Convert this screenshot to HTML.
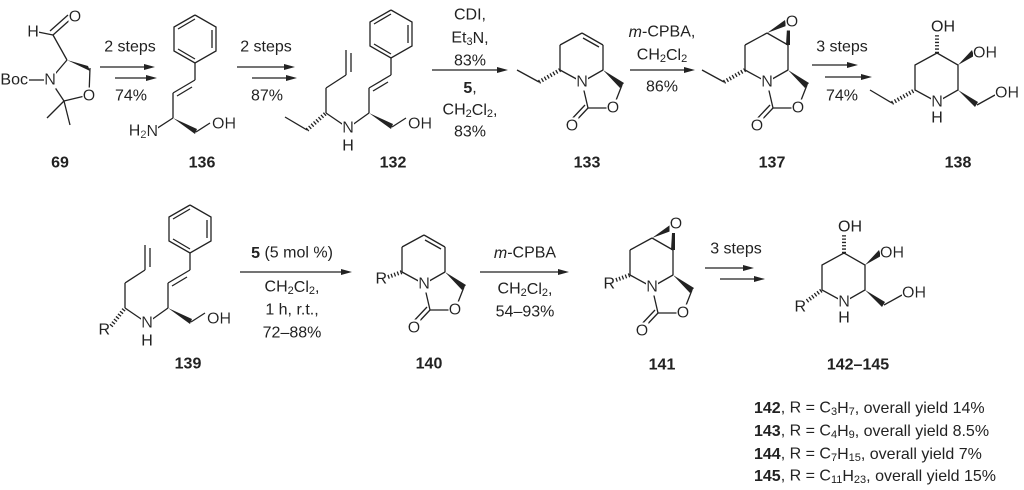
<!DOCTYPE html>
<html><head><meta charset="utf-8"><style>
html,body{margin:0;padding:0;background:#fff;}
svg{display:block;}
text{font-family:"Liberation Sans",Arial,sans-serif;font-size:16px;fill:#222;dominant-baseline:central;}
.a{filter:url(#bg);}
.b{font-weight:bold;}
line,polyline{stroke:#222;stroke-width:1.3;fill:none;}
.h{stroke-width:4;stroke-dasharray:1.3 2;}
polygon{fill:#222;stroke:none;}
.s{font-size:11px;}
</style></head><body>
<svg width="1024" height="490" viewBox="0 0 1024 490" xmlns="http://www.w3.org/2000/svg">
<defs><filter id="bg" x="0" y="0" width="1" height="1"><feFlood flood-color="#ffffff"/><feComposite in="SourceGraphic" operator="over"/></filter></defs>

<!-- 69 -->
<g>
<line x1="38" y1="32" x2="53" y2="35"/>
<line x1="53" y1="35" x2="72" y2="18"/><line x1="50" y1="31" x2="68" y2="15"/>
<line x1="53" y1="35" x2="67" y2="60"/>
<polygon points="67,60 88,66 90,71"/>
<line x1="90" y1="68" x2="89" y2="95"/>
<line x1="89" y1="95" x2="64" y2="101"/>
<line x1="64" y1="101" x2="50" y2="80"/>
<line x1="50" y1="80" x2="67" y2="60"/>
<line x1="64" y1="101" x2="47" y2="118"/><line x1="64" y1="101" x2="70" y2="125"/>
<line x1="29" y1="80" x2="45" y2="80"/>
<text class="a" x="33" y="32" text-anchor="middle">H</text>
<text class="a" x="75" y="17" text-anchor="middle">O</text>
<text class="a" x="50" y="80" text-anchor="middle">N</text>
<text x="28" y="80" text-anchor="end">Boc</text>
<text class="a" x="89" y="96" text-anchor="middle">O</text>
<text class="b" x="60" y="163" text-anchor="middle">69</text>
</g>

<!-- arrow 1 -->
<line x1="100" y1="67" x2="145" y2="67"/><polygon points="155,67 144,64 144,70"/>
<line x1="115" y1="78" x2="147" y2="78"/><polygon points="157,78 146,75 146,81"/>
<text x="130" y="47" text-anchor="middle">2 steps</text>
<text x="131" y="96" text-anchor="middle">74%</text>

<!-- 136 -->
<g transform="translate(152,133)">
<polyline points="43,-118 64,-106 64,-82 43,-70 22,-82 22,-106 43,-118"/>
<line x1="26" y1="-104" x2="43" y2="-114"/><line x1="60" y1="-103" x2="60" y2="-85"/><line x1="43" y1="-74" x2="26" y2="-84"/>
<line x1="43" y1="-70" x2="43" y2="-53"/>
<line x1="43" y1="-53" x2="21" y2="-40"/><line x1="40" y1="-46" x2="25" y2="-37"/>
<line x1="21" y1="-40" x2="21" y2="-15"/>
<polygon points="21,-15 43,1 45,-4"/>
<line x1="44" y1="-1" x2="58" y2="-10"/>
<line x1="21" y1="-15" x2="4" y2="-4"/>
<text class="a" x="60" y="-9">OH</text>
<text class="a" x="6" y="-2" text-anchor="end">H<tspan class="s" dy="4">2</tspan><tspan dy="-4">N</tspan></text>
</g>
<text class="b" x="202" y="163" text-anchor="middle">136</text>

<!-- arrow 2 -->
<line x1="237" y1="67" x2="285" y2="67"/><polygon points="295,67 284,64 284,70"/>
<line x1="252" y1="78" x2="287" y2="78"/><polygon points="297,78 286,75 286,81"/>
<text x="266" y="47" text-anchor="middle">2 steps</text>
<text x="267" y="96" text-anchor="middle">87%</text>

<!-- 132 -->
<g transform="translate(348,128)">
<polyline points="43,-118 64,-106 64,-82 43,-70 22,-82 22,-106 43,-118"/>
<line x1="26" y1="-104" x2="43" y2="-114"/><line x1="60" y1="-103" x2="60" y2="-85"/><line x1="43" y1="-74" x2="26" y2="-84"/>
<line x1="43" y1="-70" x2="43" y2="-53"/>
<line x1="43" y1="-53" x2="21" y2="-40"/><line x1="40" y1="-46" x2="25" y2="-37"/>
<line x1="21" y1="-40" x2="21" y2="-15"/>
<polygon points="21,-15 43,1 45,-4"/>
<line x1="44" y1="-1" x2="58" y2="-10"/>
<line x1="21" y1="-15" x2="0" y2="0"/>
<line x1="-22" y1="-15" x2="0" y2="0"/>
<line x1="-22" y1="-15" x2="-22" y2="-40"/>
<line x1="-22" y1="-40" x2="-2" y2="-53"/>
<line x1="-2" y1="-53" x2="-2" y2="-78"/><line x1="3" y1="-56" x2="3" y2="-75"/>
<line class="h" x1="-41" y1="2" x2="-22" y2="-15"/>
<line x1="-63" y1="-11" x2="-41" y2="2"/>
<text class="a" x="60" y="-4">OH</text>
<text class="a" x="0" y="0" text-anchor="middle">N</text>
<text x="0" y="18" text-anchor="middle">H</text>
</g>
<text class="b" x="393" y="163" text-anchor="middle">132</text>

<!-- arrow 3 -->
<line x1="432" y1="70" x2="498" y2="70"/><polygon points="508,70 497,67 497,73"/>
<text x="470" y="15" text-anchor="middle">CDI,</text>
<text x="470" y="38" text-anchor="middle">Et<tspan class="s" dy="4">3</tspan><tspan dy="-4">N,</tspan></text>
<text x="470" y="61" text-anchor="middle">83%</text>
<text x="470" y="88" text-anchor="middle"><tspan class="b">5</tspan>,</text>
<text x="470" y="110" text-anchor="middle">CH<tspan class="s" dy="4">2</tspan><tspan dy="-4">Cl</tspan><tspan class="s" dy="4">2</tspan><tspan dy="-4">,</tspan></text>
<text x="470" y="132" text-anchor="middle">83%</text>

<!-- 133 -->
<g transform="translate(560,70)">
<line x1="0" y1="0" x2="0" y2="-25"/><line x1="0" y1="-25" x2="22" y2="-37"/>
<line x1="22" y1="-37" x2="43" y2="-25"/><line x1="23" y1="-32" x2="39" y2="-23"/>
<line x1="43" y1="-25" x2="43" y2="0"/><line x1="43" y1="0" x2="22" y2="12"/>
<line x1="22" y1="12" x2="0" y2="0"/><line x1="22" y1="12" x2="28" y2="38"/>
<line x1="28" y1="38" x2="53" y2="38"/><line x1="53" y1="38" x2="62" y2="15"/>
<polygon points="43,0 60,18 64,13"/>
<line x1="28" y1="38" x2="12" y2="55"/><line x1="25" y1="35" x2="9" y2="52"/>
<line class="h" x1="-21" y1="12" x2="0" y2="0"/>
<line x1="-43" y1="0" x2="-21" y2="12"/>
<text class="a" x="22" y="12" text-anchor="middle">N</text>
<text class="a" x="53" y="38" text-anchor="middle">O</text>
<text class="a" x="12" y="56" text-anchor="middle">O</text>
</g>
<text class="b" x="587" y="163" text-anchor="middle">133</text>

<!-- arrow 4 -->
<line x1="630" y1="70" x2="685" y2="70"/><polygon points="695,70 684,67 684,73"/>
<text x="662" y="32" text-anchor="middle"><tspan font-style="italic">m</tspan>-CPBA,</text>
<text x="662" y="55" text-anchor="middle">CH<tspan class="s" dy="4">2</tspan><tspan dy="-4">Cl</tspan><tspan class="s" dy="4">2</tspan></text>
<text x="662" y="87" text-anchor="middle">86%</text>

<!-- 137 -->
<g transform="translate(745,70)">
<line x1="0" y1="0" x2="0" y2="-25"/><line x1="0" y1="-25" x2="22" y2="-37"/>
<line x1="22" y1="-37" x2="43" y2="-25"/>
<line x1="43" y1="-25" x2="43" y2="0"/><line x1="43" y1="0" x2="22" y2="12"/>
<line x1="22" y1="12" x2="0" y2="0"/><line x1="22" y1="12" x2="28" y2="38"/>
<line x1="28" y1="38" x2="53" y2="38"/><line x1="53" y1="38" x2="62" y2="15"/>
<polygon points="43,0 60,18 64,13"/>
<polygon points="22,-37 40,-50 41,-44"/>
<polygon points="41,-25 45,-25 45,-42 42,-42"/>
<line x1="28" y1="38" x2="12" y2="55"/><line x1="25" y1="35" x2="9" y2="52"/>
<line class="h" x1="-21" y1="12" x2="0" y2="0"/>
<line x1="-43" y1="0" x2="-21" y2="12"/>
<text class="a" x="47" y="-48" text-anchor="middle">O</text>
<text class="a" x="22" y="12" text-anchor="middle">N</text>
<text class="a" x="53" y="38" text-anchor="middle">O</text>
<text class="a" x="12" y="56" text-anchor="middle">O</text>
</g>
<text class="b" x="772" y="163" text-anchor="middle">137</text>

<!-- arrow 5 -->
<line x1="812" y1="65" x2="848" y2="65"/><polygon points="858,65 847,62 847,68"/>
<line x1="825" y1="77" x2="862" y2="77"/><polygon points="872,77 861,74 861,80"/>
<text x="842" y="47" text-anchor="middle">3 steps</text>
<text x="842" y="96" text-anchor="middle">74%</text>

<!-- 138 -->
<g transform="translate(937,53)">
<polyline points="0,0 21,12 21,37 0,49 -22,37 -22,12 0,0"/>
<line class="h" x1="0" y1="0" x2="0" y2="-19"/>
<polygon points="21,12 35,-3 37,3"/>
<polygon points="21,37 38,54 41,49"/>
<line x1="40" y1="52" x2="58" y2="42"/>
<line class="h" x1="-45" y1="50" x2="-22" y2="37"/>
<line x1="-67" y1="37" x2="-45" y2="50"/>
<text x="-6" y="-26">OH</text>
<text class="a" x="36" y="0">OH</text>
<text class="a" x="58" y="40">OH</text>
<text class="a" x="0" y="49" text-anchor="middle">N</text>
<text x="0" y="65" text-anchor="middle">H</text>
</g>
<text class="b" x="958" y="163" text-anchor="middle">138</text>

<!-- 139 -->
<g transform="translate(147,323)">
<polyline points="43,-118 64,-106 64,-82 43,-70 22,-82 22,-106 43,-118"/>
<line x1="26" y1="-104" x2="43" y2="-114"/><line x1="60" y1="-103" x2="60" y2="-85"/><line x1="43" y1="-74" x2="26" y2="-84"/>
<line x1="43" y1="-70" x2="43" y2="-53"/>
<line x1="43" y1="-53" x2="21" y2="-40"/><line x1="40" y1="-46" x2="25" y2="-37"/>
<line x1="21" y1="-40" x2="21" y2="-15"/>
<polygon points="21,-15 43,1 45,-4"/>
<line x1="44" y1="-1" x2="58" y2="-10"/>
<line x1="21" y1="-15" x2="0" y2="0"/>
<line x1="-22" y1="-15" x2="0" y2="0"/>
<line x1="-22" y1="-15" x2="-22" y2="-40"/>
<line x1="-22" y1="-40" x2="-2" y2="-53"/>
<line x1="-2" y1="-53" x2="-2" y2="-78"/><line x1="3" y1="-56" x2="3" y2="-75"/>
<line class="h" x1="-36" y1="3" x2="-22" y2="-15"/>
<text class="a" x="60" y="-4">OH</text>
<text class="a" x="0" y="0" text-anchor="middle">N</text>
<text x="0" y="18" text-anchor="middle">H</text>
<text x="-37" y="7" text-anchor="end">R</text>
</g>
<text class="b" x="188" y="364" text-anchor="middle">139</text>

<!-- arrow 6 -->
<line x1="240" y1="272" x2="342" y2="272"/><polygon points="352,272 341,269 341,275"/>
<text x="292" y="253" text-anchor="middle"><tspan class="b">5</tspan> (5 mol %)</text>
<text x="292" y="287" text-anchor="middle">CH<tspan class="s" dy="4">2</tspan><tspan dy="-4">Cl</tspan><tspan class="s" dy="4">2</tspan><tspan dy="-4">,</tspan></text>
<text x="292" y="310" text-anchor="middle">1 h, r.t.,</text>
<text x="292" y="333" text-anchor="middle">72–88%</text>

<!-- 140 -->
<g transform="translate(402,272)">
<line x1="0" y1="0" x2="0" y2="-25"/><line x1="0" y1="-25" x2="22" y2="-37"/>
<line x1="22" y1="-37" x2="43" y2="-25"/><line x1="23" y1="-32" x2="39" y2="-23"/>
<line x1="43" y1="-25" x2="43" y2="0"/><line x1="43" y1="0" x2="22" y2="12"/>
<line x1="22" y1="12" x2="0" y2="0"/><line x1="22" y1="12" x2="28" y2="38"/>
<line x1="28" y1="38" x2="53" y2="38"/><line x1="53" y1="38" x2="62" y2="15"/>
<polygon points="43,0 60,18 64,13"/>
<line x1="28" y1="38" x2="12" y2="55"/><line x1="25" y1="35" x2="9" y2="52"/>
<line class="h" x1="-14" y1="5" x2="0" y2="0"/>
<text x="-15" y="7" text-anchor="end">R</text>
<text class="a" x="22" y="12" text-anchor="middle">N</text>
<text class="a" x="53" y="38" text-anchor="middle">O</text>
<text class="a" x="12" y="56" text-anchor="middle">O</text>
</g>
<text class="b" x="429" y="364" text-anchor="middle">140</text>

<!-- arrow 7 -->
<line x1="480" y1="272" x2="559" y2="272"/><polygon points="569,272 558,269 558,275"/>
<text x="525" y="253" text-anchor="middle"><tspan font-style="italic">m</tspan>-CPBA</text>
<text x="525" y="289" text-anchor="middle">CH<tspan class="s" dy="4">2</tspan><tspan dy="-4">Cl</tspan><tspan class="s" dy="4">2</tspan><tspan dy="-4">,</tspan></text>
<text x="525" y="312" text-anchor="middle">54–93%</text>

<!-- 141 -->
<g transform="translate(630,275)">
<line x1="0" y1="0" x2="0" y2="-25"/><line x1="0" y1="-25" x2="22" y2="-37"/>
<line x1="22" y1="-37" x2="43" y2="-25"/>
<line x1="43" y1="-25" x2="43" y2="0"/><line x1="43" y1="0" x2="22" y2="12"/>
<line x1="22" y1="12" x2="0" y2="0"/><line x1="22" y1="12" x2="28" y2="38"/>
<line x1="28" y1="38" x2="53" y2="38"/><line x1="53" y1="38" x2="62" y2="15"/>
<polygon points="43,0 60,18 64,13"/>
<polygon points="22,-37 40,-50 41,-44"/>
<polygon points="41,-25 45,-25 45,-42 42,-42"/>
<line x1="28" y1="38" x2="12" y2="55"/><line x1="25" y1="35" x2="9" y2="52"/>
<line class="h" x1="-14" y1="5" x2="0" y2="0"/>
<text x="-15" y="9" text-anchor="end">R</text>
<text class="a" x="46" y="-51" text-anchor="middle">O</text>
<text class="a" x="22" y="12" text-anchor="middle">N</text>
<text class="a" x="53" y="38" text-anchor="middle">O</text>
<text class="a" x="12" y="56" text-anchor="middle">O</text>
</g>
<text class="b" x="662" y="365" text-anchor="middle">141</text>

<!-- arrow 8 -->
<line x1="705" y1="268" x2="744" y2="268"/><polygon points="754,268 743,265 743,271"/>
<line x1="720" y1="279" x2="755" y2="279"/><polygon points="765,279 754,276 754,282"/>
<text x="736" y="249" text-anchor="middle">3 steps</text>

<!-- 142-145 -->
<g transform="translate(844,253)">
<polyline points="0,0 21,12 21,37 0,49 -22,37 -22,12 0,0"/>
<line class="h" x1="0" y1="0" x2="0" y2="-19"/>
<polygon points="21,12 35,-3 37,3"/>
<polygon points="21,37 38,54 41,49"/>
<line x1="40" y1="52" x2="58" y2="42"/>
<line class="h" x1="-37" y1="48" x2="-22" y2="37"/>
<text x="-6" y="-26">OH</text>
<text class="a" x="36" y="0">OH</text>
<text class="a" x="58" y="40">OH</text>
<text class="a" x="0" y="49" text-anchor="middle">N</text>
<text x="0" y="65" text-anchor="middle">H</text>
<text x="-38" y="54" text-anchor="end">R</text>
</g>
<text class="b" x="858" y="365" text-anchor="middle">142–145</text>

<!-- legend -->
<text x="754" y="408"><tspan class="b">142</tspan>, R = C<tspan class="s" dy="4">3</tspan><tspan dy="-4">H</tspan><tspan class="s" dy="4">7</tspan><tspan dy="-4">, overall yield 14%</tspan></text>
<text x="754" y="431"><tspan class="b">143</tspan>, R = C<tspan class="s" dy="4">4</tspan><tspan dy="-4">H</tspan><tspan class="s" dy="4">9</tspan><tspan dy="-4">, overall yield 8.5%</tspan></text>
<text x="754" y="454"><tspan class="b">144</tspan>, R = C<tspan class="s" dy="4">7</tspan><tspan dy="-4">H</tspan><tspan class="s" dy="4">15</tspan><tspan dy="-4">, overall yield 7%</tspan></text>
<text x="754" y="476"><tspan class="b">145</tspan>, R = C<tspan class="s" dy="4">11</tspan><tspan dy="-4">H</tspan><tspan class="s" dy="4">23</tspan><tspan dy="-4">, overall yield 15%</tspan></text>
</svg>
</body></html>
